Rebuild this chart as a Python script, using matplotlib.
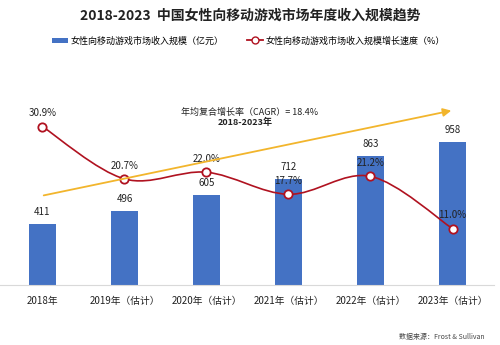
import matplotlib

matplotlib.use("Agg")
import matplotlib.pyplot as plt
from matplotlib.patches import FancyArrowPatch, PathPatch
from matplotlib.path import Path
from matplotlib.lines import Line2D
from matplotlib.patches import Patch

plt.rcParams["font.family"] = ["Noto Sans CJK SC", "DejaVu Sans"]

years = ["2018年", "2019年（估计）", "2020年（估计）", "2021年（估计）", "2022年（估计）", "2023年（估计）"]
revenue = [411, 496, 605, 712, 863, 958]
growth = [30.9, 20.7, 22.0, 17.7, 21.2, 11.0]

BLUE = "#4472c4"
RED = "#b01220"
GOLD = "#f2b52c"
DARK = "#222222"

fig = plt.figure(figsize=(5.0, 3.45), dpi=100)
ax = fig.add_axes([0.0, 0.174, 0.988, 0.536])
ax2 = ax.twinx()

x = list(range(len(years)))
ax.bar(x, revenue, width=0.33, color=BLUE, zorder=2)
ax.set_xlim(-0.518, 5.506)
ax.set_ylim(0, 1239)
ax2.set_ylim(0, 36.09)

for xi, v in zip(x, revenue):
    ax.text(xi, v + 45, str(v), ha="center", va="bottom", fontsize=7, color=DARK, zorder=5)

# smoothed growth line (Catmull-Rom -> cubic Bezier)
pts = list(zip(x, growth))
verts = [pts[0]]
codes = [Path.MOVETO]
for i in range(len(pts) - 1):
    p0 = pts[i - 1] if i > 0 else pts[i]
    p1 = pts[i]
    p2 = pts[i + 1]
    p3 = pts[i + 2] if i + 2 < len(pts) else pts[i + 1]
    c1 = (p1[0] + (p2[0] - p0[0]) / 6, p1[1] + (p2[1] - p0[1]) / 6)
    c2 = (p2[0] - (p3[0] - p1[0]) / 6, p2[1] - (p3[1] - p1[1]) / 6)
    verts += [c1, c2, p2]
    codes += [Path.CURVE4] * 3
ax2.add_patch(PathPatch(Path(verts, codes), facecolor="none", edgecolor=RED, lw=1.2, zorder=3))
ax2.plot(x, growth, ls="none", marker="o", ms=6, mfc="white", mec=RED, mew=1.3, zorder=4)
for xi, g in zip(x, growth):
    ax2.text(xi, g + 1.6, f"{g:.1f}%", ha="center", va="bottom", fontsize=7, color=DARK, zorder=5)

for a in (ax, ax2):
    for s in ("top", "right", "left"):
        a.spines[s].set_visible(False)
    a.set_yticks([])
ax.spines["bottom"].set_color("#d9d9d9")
ax2.spines["bottom"].set_visible(False)
ax.set_xticks(x)
ax.set_xticklabels(years, fontsize=7, color=DARK)
ax.tick_params(axis="x", length=0, pad=8)

# CAGR arrow
fig.add_artist(FancyArrowPatch((0.082, 0.432), (0.908, 0.681), transform=fig.transFigure,
                               arrowstyle="-|>", mutation_scale=12, lw=1.3, color=GOLD, zorder=1))
fig.text(0.50, 0.675, "年均复合增长率（CAGR）= 18.4%", ha="center", va="center", fontsize=6.5, color=DARK)
fig.text(0.49, 0.645, "2018-2023年", ha="center", va="center", fontsize=6.5, color=DARK, weight="bold")

fig.text(0.5, 0.955, "2018-2023  中国女性向移动游戏市场年度收入规模趋势", ha="center", va="center",
         fontsize=10, weight="bold", color=DARK)

handles = [Patch(facecolor=BLUE), Line2D([], [], color=RED, marker="o", mfc="white", mec=RED, ms=5, lw=1.3)]
labels = ["女性向移动游戏市场收入规模（亿元）", "女性向移动游戏市场收入规模增长速度（%）"]
fig.legend(handles, labels, loc="center", bbox_to_anchor=(0.497, 0.882), ncol=2, frameon=False,
           fontsize=6.5, handlelength=1.8, handleheight=0.5, columnspacing=2.6, handletextpad=0.3)

fig.text(0.97, 0.022, "数据来源：Frost & Sullivan", ha="right", va="center", fontsize=5, color="#444444",
         style="italic")

fig.savefig("out.png", dpi=100)
